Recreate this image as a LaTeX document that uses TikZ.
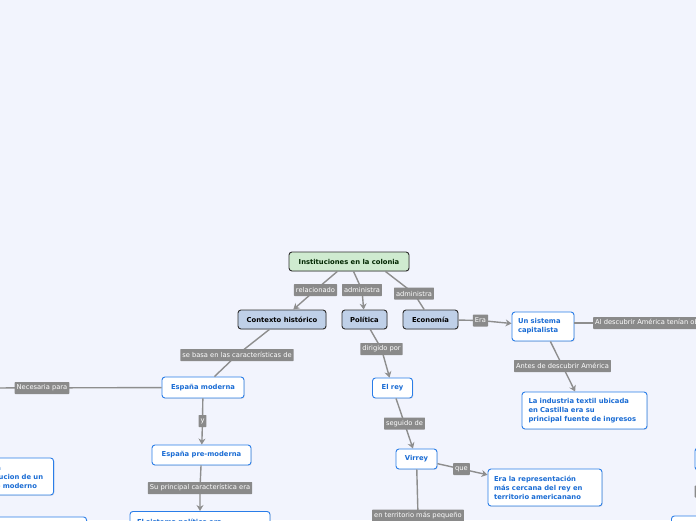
\documentclass[tikz,border=0pt]{standalone}
\usepackage{fontspec}
\setmainfont{DejaVu Sans}
\usetikzlibrary{arrows.meta,shadows}
\definecolor{bgc}{HTML}{F2F4FD}
\definecolor{linec}{HTML}{8E8E8E}
\definecolor{labc}{HTML}{8A8A8A}
\definecolor{topicfill}{HTML}{BFD0E8}
\definecolor{rootfill}{HTML}{CFEBD0}
\definecolor{darkb}{HTML}{2E2E2E}
\definecolor{blueb}{HTML}{2A7DE8}
\definecolor{bluet}{HTML}{1A6CD4}
\tikzset{
  boxshadow/.style={drop shadow={opacity=0.18,shadow xshift=0.8pt,shadow yshift=-0.9pt}},
  topicbox/.style={draw=darkb,line width=0.9pt,rounded corners=3pt,fill=topicfill,
    font=\fontsize{6.8}{8}\selectfont\bfseries,text=black,minimum height=19pt,inner sep=2pt,boxshadow},
  rootbox/.style={topicbox,fill=rootfill,text=black!85!green},
  subbox/.style={draw=blueb,line width=0.9pt,rounded corners=3pt,fill=white,
    font=\fontsize{6.8}{9}\selectfont\bfseries,text=bluet,inner sep=2pt,boxshadow},
  lab/.style={fill=labc,text=white,font=\fontsize{6.7}{7.5}\selectfont,inner sep=2pt,
    minimum height=12pt,rounded corners=0.6pt},
  conn/.style={draw=linec,line width=1.4pt},
  arr/.style={conn,-{Stealth[length=6pt,width=7pt]}},
}
\begin{document}
\begin{tikzpicture}[x=1pt,y=-1pt]
\useasboundingbox (0,0) rectangle (696,520);
\fill[bgc] (0,0) rectangle (696,520);
\clip (0,0) rectangle (696,520);

% main nodes
\node[rootbox,minimum width=120pt] (root) at (349,261.5) {Instituciones en la colonia};
\node[topicbox,minimum width=88pt] (ctx) at (282,319.5) {Contexto histórico};
\node[topicbox,minimum width=45pt] (pol) at (364.5,319.5) {Política};
\node[topicbox,minimum width=55pt] (eco) at (430.5,319.5) {Economía};

\node[subbox,minimum width=62pt,minimum height=29pt,text width=50pt,align=left] (cap) at (543,326.5) {Un sistema\\capitalista};
\node[subbox,minimum width=125pt,minimum height=37pt,text width=112pt,align=left] (ind) at (584.5,410.5) {La industria textil ubicada\\en Castilla era su\\principal fuente de ingresos};

\node[subbox,minimum width=82pt,minimum height=21pt] (emod) at (203,387.5) {España moderna};
\node[subbox,minimum width=99pt,minimum height=20pt] (epre) at (201.5,455) {España pre-moderna};
\node[subbox,minimum width=140pt,minimum height=30pt,text width=126pt,align=left,anchor=north] (bot) at (200,511) {El sistema político era\\absolutista};

\node[subbox,minimum width=40pt,minimum height=20pt] (rey) at (392.5,388) {El rey};
\node[subbox,minimum width=41pt,minimum height=20pt] (vir) at (416.5,459) {Virrey};
\node[subbox,minimum width=114pt,minimum height=37pt,text width=102pt,align=left] (rep) at (545,487.5) {Era la representación\\más cercana del rey en\\territorio americanano};

\node[subbox,minimum width=81pt,minimum height=37pt,text width=77pt,align=left,anchor=east] (izq) at (54,476.5) {Para la\\construcion de un\\estado moderno};
\node[subbox,minimum width=120pt,minimum height=30pt,anchor=north east] (izqb) at (87,516.5) {};
\node[subbox,minimum width=60pt,minimum height=22pt,anchor=west] (der1) at (694.5,459) {};
\node[subbox,minimum width=60pt,minimum height=30pt,anchor=north west] (der2) at (671,515.5) {};

% label positions
\coordinate (l1) at (315.5,290);
\coordinate (l2) at (362,290);
\coordinate (l3) at (414,293.5);
\coordinate (l4) at (480.5,320.5);
\coordinate (l5) at (562.5,366);
\coordinate (l6) at (237,355);
\coordinate (l7) at (42,388);
\coordinate (l8) at (202.5,421);
\coordinate (l9) at (200,488);
\coordinate (l10) at (381.5,349);
\coordinate (l11) at (404.5,423.5);
\coordinate (l12) at (461.5,469);
\coordinate (l13) at (418,515.5);
\coordinate (offL) at (-20,388);
\coordinate (l14) at (593,323);
\coordinate (l15) at (694.5,491.5);

% connectors
\draw[arr] (root) -- (l1) -- (ctx);
\draw[arr] (root) -- (l2) -- (pol);
\draw[conn] ([xshift=-24pt]root.south east) -- (l3) -- (eco);
\draw[arr] (eco) -- (l4) -- (cap);
\draw[conn] (cap.east |- l14) -- (l14);
\draw[arr] (cap) -- (l5) -- (ind);
\draw[conn] (ctx) -- (l6) -- (emod);
\draw[conn] (emod) -- (offL);
\draw[arr] (emod) -- (l8) -- (epre);
\draw[arr] (epre) -- (l9) -- (bot);
\draw[arr] (pol) -- (l10) -- (rey);
\draw[arr] (rey) -- (l11) -- (vir);
\draw[arr] (vir) -- (l12) -- (rep);
\draw[conn] (vir) -- (l13);

% labels
\node[lab] (t1) at (l1) {relacionado};
\node[lab] (t2) at (l2) {administra};
\node[lab] (t3) at (l3) {administra};
\node[lab] (t4) at (l4) {Era};
\node[lab] (t5) at (l5) {Antes de descubrir América};
\node[lab] (t6) at (l6) {se basa en las características de};
\node[lab] (t7) at (l7) {Necesaria para};
\node[lab] (t8) at (l8) {y};
\node[lab] (t9) at (l9) {Su principal característica era};
\node[lab] (t10) at (l10) {dirigido por};
\node[lab] (t11) at (l11) {seguido de};
\node[lab] (t12) at (l12) {que};
\node[lab] (t13) at (l13) {en territorio más pequeño};
\node[lab,anchor=west] (t14) at (l14) {Al descubrir América tenían objetivos};
\node[lab,anchor=west,minimum width=30pt] (t15) at (l15) {};
\end{tikzpicture}
\end{document}
